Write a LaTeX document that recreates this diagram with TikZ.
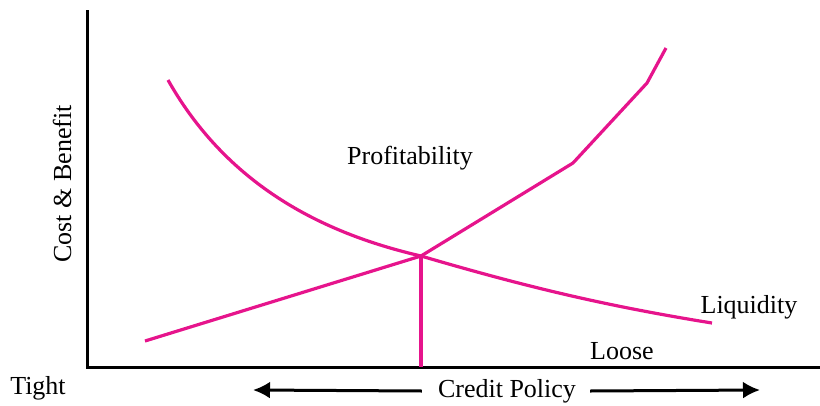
\documentclass[tikz,border=0pt]{standalone}
\usepackage{fontspec}
\setmainfont{Liberation Serif}
\definecolor{curve}{RGB}{230,20,140}
\usetikzlibrary{arrows.meta}
\tikzset{
  axis/.style={line width=3pt,black},
  curveline/.style={line width=3.2pt,curve,line join=round},
  lbl/.style={font=\fontsize{26}{30}\selectfont,inner sep=0pt},
  arr/.style={line width=3pt,-{Latex[length=17pt,width=17pt]}}
}
\begin{document}
\begin{tikzpicture}[x=1pt,y=-1pt]
\useasboundingbox (0,0) rectangle (820,405);
\coordinate (top) at (87,10);
\coordinate (origin) at (87,367);
\coordinate (right) at (820,367);
\draw[axis] (top) -- (origin) -- (right);
\coordinate (x) at (421,256);
\coordinate (r0) at (145,341);
\coordinate (r2) at (573,163);
\coordinate (r3) at (647,83);
\coordinate (r4) at (666,48);
\coordinate (f0) at (168,80);
\coordinate (f1) at (712,323);
\coordinate (base) at (421,367);
\draw[curveline] (r0) -- (x) -- (r2) -- (r3) -- (r4);
\draw[curveline] (f0) .. controls (230,190) and (330,235) .. (x) .. controls (520,285) and (600,305) .. (f1);
\draw[curveline] (x) -- (base);
\node[lbl] (prof) at (410,158) {Profitability};
\node[lbl] (liq) at (749,307) {Liquidity};
\node[lbl] (loose) at (622,351) {Loose};
\node[lbl] (tight) at (38,388) {Tight};
\node[lbl] (credit) at (507,391) {Credit Policy};
\node[lbl,rotate=90] (cost) at (62,184) {Cost \& Benefit};
\coordinate (la) at (253,390);
\coordinate (ra) at (760,390);
\draw[arr] (credit.west) ++(-16,0) -- (la);
\draw[arr] (credit.east) ++(14,0) -- (ra);
\end{tikzpicture}
\end{document}
